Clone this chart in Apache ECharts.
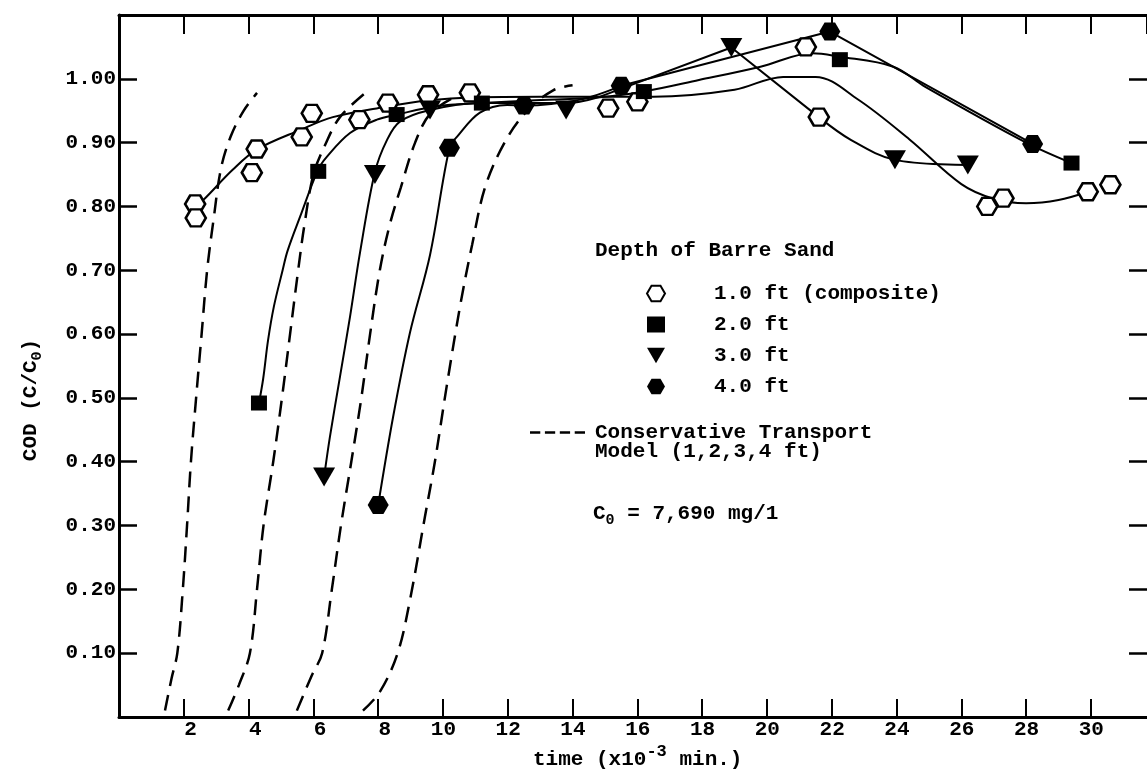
<!DOCTYPE html>
<html>
<head>
<meta charset="utf-8">
<script src="https://cdn.jsdelivr.net/npm/echarts@6/dist/echarts.min.js"></script>
<style>
html,body{margin:0;padding:0;background:#fff;}
#chart{width:1147px;height:775px;}
</style>
</head>
<body>
<div id="chart"></div>
<script>
// ---------- data (time in 10^3 min, C/C0) ----------
const depth1 = [[2.35,0.804],[2.37,0.782],[4.1,0.853],[4.25,0.890],[5.64,0.909],[5.95,0.946],[7.42,0.936],[8.3,0.962],[9.54,0.975],[10.83,0.978],[15.1,0.954],[16.0,0.964],[21.2,1.05],[21.6,0.94],[26.8,0.80],[27.3,0.813],[29.9,0.823],[30.6,0.834]];
const depth2 = [[4.32,0.492],[6.15,0.855],[8.57,0.944],[11.2,0.962],[16.2,0.98],[22.25,1.03],[29.4,0.868]];
const depth3 = [[6.33,0.376],[7.9,0.85],[9.6,0.951],[13.8,0.951],[18.9,1.049],[23.95,0.873],[26.2,0.865]];
const depth4 = [[8.0,0.332],[10.2,0.892],[12.5,0.958],[15.5,0.989],[21.94,1.074],[28.2,0.898]];

// fitted (hand-drawn) curves
const fit1 = [[2.35,0.80],[2.6,0.81],[3.5,0.857],[4.25,0.889],[5.6,0.92],[6.6,0.94],[8.2,0.956],[9.5,0.966],[11,0.971],[13,0.972],[15,0.972],[16.5,0.972],[19,0.983],[20.5,1.003],[21.5,1.003],[22.8,0.968],[24.4,0.905],[26,0.835],[27,0.812],[28,0.805],[29,0.81],[29.9,0.823]];
const fit2 = [[4.32,0.492],[4.45,0.53],[4.6,0.59],[4.78,0.643],[5.05,0.7],[5.2,0.73],[5.59,0.784],[6.14,0.857],[6.42,0.878],[7.13,0.915],[7.96,0.936],[8.58,0.944],[9.8,0.957],[11.2,0.962],[12.7,0.966],[14.85,0.971],[16.2,0.98],[17.9,0.998],[19.8,1.019],[21.4,1.04],[22.2,1.035],[23.9,1.019],[24.9,0.987],[28.0,0.90],[29.4,0.868]];
const fit3a = [[6.33,0.376],[6.51,0.439],[6.82,0.533],[7.13,0.627],[7.44,0.728],[7.9,0.854],[8.27,0.904],[8.67,0.933],[9.6,0.951],[11.1,0.962],[13.8,0.962],[14.85,0.972]];
const fit3b = [[14.85,0.972],[18.9,1.049],[21.6,0.94]];
const fit3c = [[21.6,0.94],[22.6,0.904],[23.95,0.873],[26.2,0.865]];
const fit4a = [[8.0,0.332],[8.46,0.47],[8.98,0.602],[9.6,0.724],[10.2,0.892],[10.43,0.909],[11.14,0.947],[11.98,0.959],[12.5,0.958],[14.2,0.967],[15.5,0.989]];
const fit4b = [[15.5,0.989],[21.94,1.074],[28.2,0.898]];

// conservative transport model (dashed)
const model1 = [[1.42,0.01],[1.62,0.06],[1.8,0.1],[1.97,0.2],[2.1,0.3],[2.22,0.4],[2.38,0.5],[2.55,0.6],[2.72,0.7],[2.92,0.78],[3.15,0.86],[3.45,0.91],[3.85,0.95],[4.26,0.978]];
const model2 = [[3.37,0.01],[3.7,0.05],[4.04,0.1],[4.26,0.2],[4.46,0.3],[4.76,0.4],[5.03,0.5],[5.28,0.6],[5.53,0.7],[5.72,0.77],[6.0,0.85],[6.35,0.895],[6.82,0.94],[7.65,0.98]];
const model3 = [[5.49,0.01],[5.95,0.065],[6.27,0.1],[6.57,0.2],[6.85,0.3],[7.17,0.4],[7.48,0.5],[7.75,0.6],[8.05,0.7],[8.35,0.77],[8.7,0.83],[9.14,0.9],[9.6,0.945],[10.3,0.97]];
const model4 = [[7.53,0.01],[8.06,0.04],[8.6,0.1],[8.98,0.183],[9.44,0.313],[9.75,0.4],[10.12,0.52],[10.55,0.65],[10.9,0.74],[11.3,0.83],[11.9,0.9],[12.6,0.95],[13.4,0.982],[14.0,0.99]];

const seriesNames = ['1.0 ft (composite)','2.0 ft','3.0 ft','4.0 ft'];
const modelName = 'Conservative Transport';
const modelName2 = 'Model (1,2,3,4 ft)';
const legendTitle = 'Depth of Barre Sand';
const c0Text = ' = 7,690 mg/1';
const xTitleA = 'time (x10', xTitleSup = '-3', xTitleB = ' min.)';
const yTitleA = 'COD (C/C', yTitleSub = '0', yTitleB = ')';
const xMax = 31.73, xInterval = 2, yMax = 1.1, yInterval = 0.1;

// ---------- styles ----------
const FONT = '"Liberation Mono", "DejaVu Sans Mono", monospace';
const HEX = 'path://M0,4.33 L2.5,0 L7.5,0 L10,4.33 L7.5,8.66 L2.5,8.66 Z';
const TRI = 'path://M0,0 L10,0 L5,8.66 Z';
const DASH4 = 'path://M0,0 H10 V2.4 H0 Z M14.5,0 H24.5 V2.4 H14.5 Z M29,0 H39 V2.4 H29 Z M43.5,0 H53.5 V2.4 H43.5 Z';

const chart = echarts.init(document.getElementById('chart'), null, {renderer:'canvas'});

function fitLine(data, smooth){
  return {type:'line', data:data, smooth:smooth ? 0.35 : false, symbol:'none', silent:true, z:2,
    lineStyle:{color:'#000', width:2}};
}
function modelLine(data){
  return {type:'line', name:modelName, data:data, smooth:0.35, symbol:'none', silent:true, z:2,
    itemStyle:{color:'#000'},
    lineStyle:{color:'#000', width:2.5, type:[16,9]}};
}

const option = {
  backgroundColor:'#fff',
  animation:false,
  grid:{left:119, top:15, width:1028, height:702, containLabel:false},
  xAxis:[{
    type:'value', min:0, max:xMax, interval:xInterval, position:'bottom',
    axisLine:{onZero:false, lineStyle:{color:'#000', width:3}},
    axisTick:{inside:true, length:18, lineStyle:{color:'#000', width:2}},
    splitLine:{show:false},
    axisLabel:{margin:2, color:'#000', showMaxLabel:false,
      formatter:function(v){ return (v===0 || v>31) ? '' : '{a|'+v+'}'; },
      rich:{a:{width:26, align:'right', fontFamily:FONT, fontSize:21, fontWeight:'bold', color:'#000'}}}
  },{
    type:'value', min:0, max:xMax, interval:xInterval, position:'top',
    axisLine:{onZero:false, lineStyle:{color:'#000', width:3}},
    axisTick:{inside:true, length:19, lineStyle:{color:'#000', width:2}},
    axisLabel:{show:false}, splitLine:{show:false}
  }],
  yAxis:[{
    type:'value', min:0, max:yMax, interval:yInterval, position:'left',
    axisLine:{onZero:false, lineStyle:{color:'#000', width:3}},
    axisTick:{inside:true, length:18, lineStyle:{color:'#000', width:2.5}},
    splitLine:{show:false},
    axisLabel:{margin:3, color:'#000', fontFamily:FONT, fontSize:21, fontWeight:'bold',
      formatter:function(v){ return (v<0.05 || v>1.05) ? '' : v.toFixed(2); }}
  },{
    type:'value', min:0, max:yMax, interval:yInterval, position:'right',
    axisLine:{show:false, onZero:false, lineStyle:{color:'#000', width:3}},
    axisTick:{show:true, inside:true, length:18, lineStyle:{color:'#000', width:2.5}},
    axisLabel:{show:false}, splitLine:{show:false}
  }],
  legend:[{
    orient:'vertical', left:646, top:283, padding:0, itemWidth:18, itemHeight:16, itemGap:10,
    selectedMode:false, data:seriesNames,
    formatter:function(n){ return '{g| }{t|'+n+'}'; },
    textStyle:{color:'#000', fontFamily:FONT, fontSize:21, fontWeight:'bold', lineHeight:20,
      rich:{g:{width:44}, t:{fontFamily:FONT, fontSize:21, fontWeight:'bold', color:'#000'}}}
  },{
    orient:'vertical', left:530, top:422, padding:0, itemWidth:55, itemHeight:3,
    selectedMode:false, data:[{name:modelName, icon:DASH4}],
    formatter:function(n){ return '{g| }{t|'+n+'}'; },
    itemStyle:{color:'#000', borderWidth:0},
    textStyle:{color:'#000', fontFamily:FONT, fontSize:21, fontWeight:'bold', lineHeight:20,
      rich:{g:{width:5}, t:{fontFamily:FONT, fontSize:21, fontWeight:'bold', color:'#000'}}}
  }],
  graphic:[
    {type:'text', left:595, top:240, style:{text:legendTitle, font:'bold 21px '+FONT, fill:'#000'}},
    {type:'text', left:595, top:441, style:{text:modelName2, font:'bold 21px '+FONT, fill:'#000'}},
    {type:'text', left:593, top:503, style:{
      text:'{a|C}{s|0}{a|'+c0Text+'}',
      rich:{a:{fontFamily:FONT, fontSize:21, fontWeight:'bold', fill:'#000'},
            s:{fontFamily:FONT, fontSize:15, fontWeight:'bold', fill:'#000', padding:[14,0,0,0]}}}},
    {type:'text', left:533, top:743, style:{
      text:'{a|'+xTitleA+'}{s|'+xTitleSup+'}{a|'+xTitleB+'}',
      rich:{a:{fontFamily:FONT, fontSize:21, fontWeight:'bold', fill:'#000'},
            s:{fontFamily:FONT, fontSize:17, fontWeight:'bold', fill:'#000', padding:[0,0,16,0]}}}},
    {type:'text', x:31, y:400, rotation:Math.PI/2, style:{
      text:'{a|'+yTitleA+'}{s|'+yTitleSub+'}{a|'+yTitleB+'}',
      align:'center', verticalAlign:'middle',
      rich:{a:{fontFamily:FONT, fontSize:21, fontWeight:'bold', fill:'#000'},
            s:{fontFamily:FONT, fontSize:15, fontWeight:'bold', fill:'#000', padding:[12,0,0,0]}}}}
  ],
  series:[
    fitLine(fit1,true), fitLine(fit2,true), fitLine(fit3a,true), fitLine(fit3b,false), fitLine(fit3c,true),
    fitLine(fit4a,true), fitLine(fit4b,false),
    modelLine(model1), modelLine(model2), modelLine(model3), modelLine(model4),
    {type:'scatter', name:seriesNames[0], data:depth1, symbol:HEX, symbolSize:[20,17], z:5,
      itemStyle:{color:'#fff', borderColor:'#000', borderWidth:2.5, opacity:1}},
    {type:'scatter', name:seriesNames[1], data:depth2, symbol:'rect', symbolSize:[16,15], z:5,
      itemStyle:{color:'#000', opacity:1}},
    {type:'scatter', name:seriesNames[2], data:depth3, symbol:TRI, symbolSize:[22,19], z:5,
      itemStyle:{color:'#000', opacity:1}},
    {type:'scatter', name:seriesNames[3], data:depth4, symbol:HEX, symbolSize:[21,18], z:5,
      itemStyle:{color:'#000', opacity:1}}
  ]
};
chart.setOption(option);
</script>
</body>
</html>
